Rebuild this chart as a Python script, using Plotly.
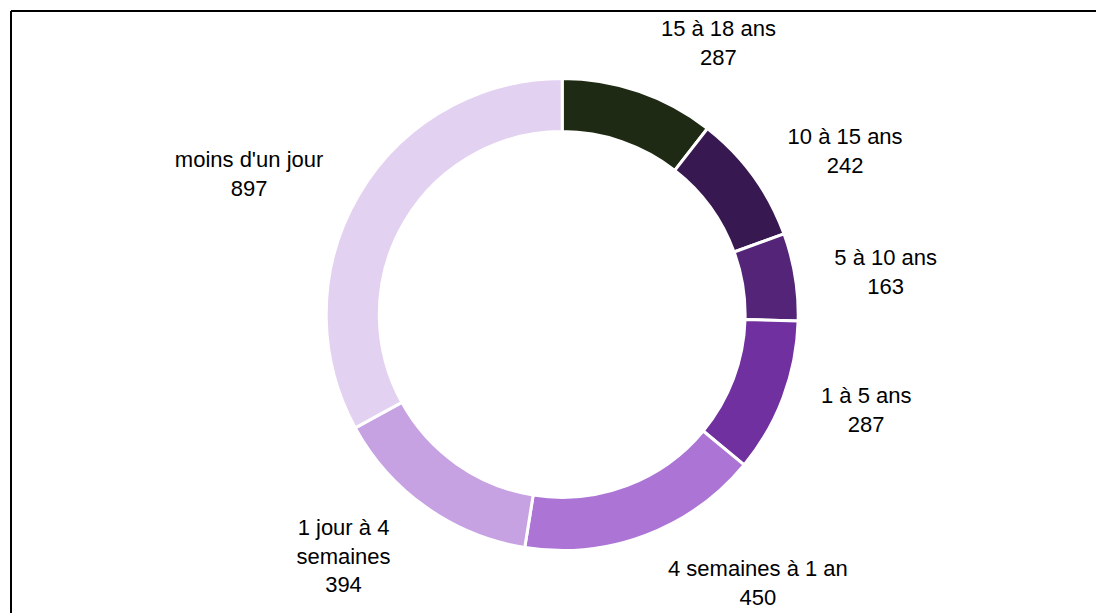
import plotly.graph_objects as go

labels = ["15 à 18 ans", "10 à 15 ans", "5 à 10 ans", "1 à 5 ans",
          "4 semaines à 1 an", "1 jour à 4<br>semaines", "moins d'un jour"]
values = [287, 242, 163, 287, 450, 394, 897]
colors = ["#1f2a14", "#381850", "#542478", "#7030a0", "#ab74d5", "#c7a2e3", "#e3d1f1"]

# visible donut ring
ring = go.Pie(
    labels=labels,
    values=values,
    sort=False,
    direction="clockwise",
    rotation=0,
    hole=0.775,
    marker=dict(colors=colors, line=dict(color="white", width=3)),
    textinfo="none",
    showlegend=False,
    automargin=False,
    domain=dict(x=[0.2, 0.804], y=[0.115, 0.885]),
)

# transparent companion pie that only carries the outside labels
label_pie = go.Pie(
    labels=labels,
    values=values,
    sort=False,
    direction="clockwise",
    rotation=0,
    marker=dict(colors=["rgba(0,0,0,0)"] * len(values), line=dict(width=0)),
    textposition="outside",
    texttemplate="%{label}<br>%{value}",
    textfont=dict(family="Liberation Sans, Arial, sans-serif", size=22, color="black"),
    showlegend=False,
    automargin=False,
    hoverinfo="skip",
    domain=dict(x=[0.2, 0.804], y=[0.0725, 0.9275]),
)

fig = go.Figure([ring, label_pie])

fig.update_layout(
    width=1104, height=613,
    margin=dict(l=0, r=0, t=0, b=0),
    paper_bgcolor="white",
    shapes=[
        dict(type="line", xref="paper", yref="paper",
             x0=3/1104, x1=1.05, y0=1 - 3/613, y1=1 - 3/613,
             line=dict(color="black", width=2)),
        dict(type="line", xref="paper", yref="paper",
             x0=3/1104, x1=3/1104, y0=-0.05, y1=1 - 3/613,
             line=dict(color="black", width=2)),
    ],
)

fig.write_html("out.html")
